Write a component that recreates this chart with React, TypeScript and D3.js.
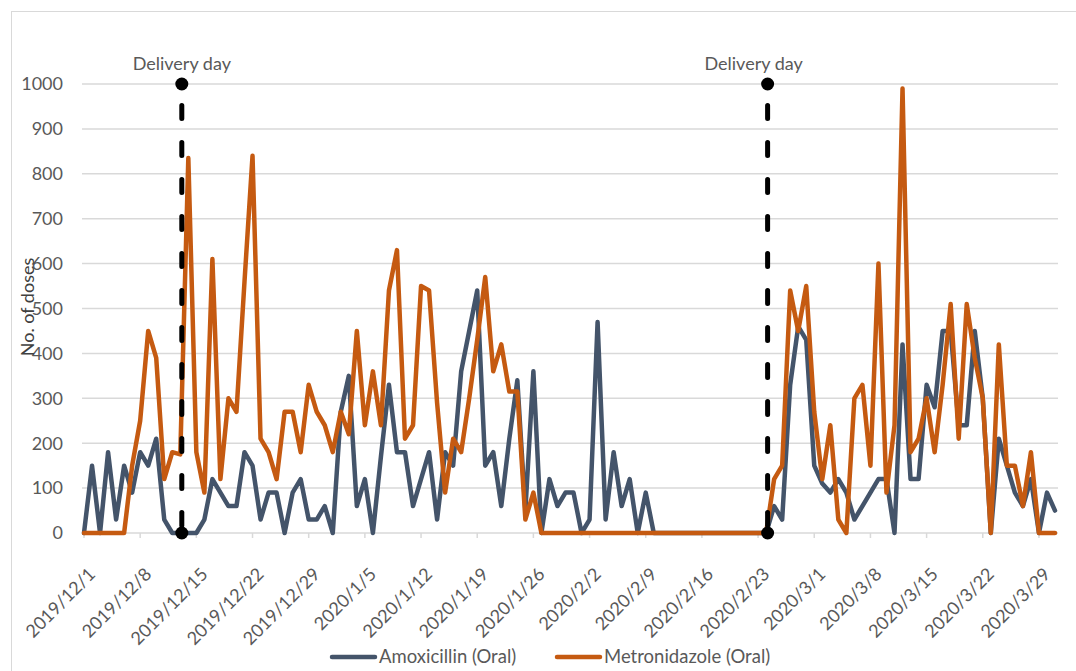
import { useEffect, useRef } from "react";
import * as d3 from "d3";

const W = 1076;
const H = 671;

// weekly tick labels on the date axis
const tickLabels = [
  "2019/12/1", "2019/12/8", "2019/12/15", "2019/12/22", "2019/12/29",
  "2020/1/5", "2020/1/12", "2020/1/19", "2020/1/26", "2020/2/2",
  "2020/2/9", "2020/2/16", "2020/2/23", "2020/3/1", "2020/3/8",
  "2020/3/15", "2020/3/22", "2020/3/29",
];
const yTicks = [0, 100, 200, 300, 400, 500, 600, 700, 800, 900, 1000];
const firstDay = "2019/12/1";
const deliveryDates = ["2019/12/13", "2020/2/24"];
const deliveryLabel = "Delivery day";

// daily doses, 2019/12/1 .. 2020/3/31
const amoxicillin = [
  0, 150, 0, 180, 30, 150, 90, 180, 150, 210,
  30, 0, 0, 0, 0, 30, 120, 90, 60, 60,
  180, 150, 30, 90, 90, 0, 90, 120, 30, 30,
  60, 0, 270, 350, 60, 120, 0, 170, 330, 180,
  180, 60, 120, 180, 30, 180, 150, 360, 450, 540,
  150, 180, 60, 210, 340, 50, 360, 0, 120, 60,
  90, 90, 0, 30, 470, 30, 180, 60, 120, 0,
  90, 0, 0, 0, 0, 0, 0, 0, 0, 0,
  0, 0, 0, 0, 0, 0, 60, 30, 330, 460,
  430, 150, 110, 90, 120, 90, 30, 60, 90, 120,
  120, 0, 420, 120, 120, 330, 280, 450, 450, 240,
  240, 450, 300, 0, 210, 150, 90, 60, 120, 0,
  90, 50,
];
const metronidazole = [
  0, 0, 0, 0, 0, 0, 150, 250, 450, 390,
  120, 180, 175, 835, 180, 90, 610, 120, 300, 270,
  560, 840, 210, 180, 120, 270, 270, 180, 330, 270,
  240, 180, 270, 220, 450, 240, 360, 240, 540, 630,
  210, 240, 550, 540, 290, 90, 210, 180, 300, 430,
  570, 360, 420, 315, 315, 30, 90, 0, 0, 0,
  0, 0, 0, 0, 0, 0, 0, 0, 0, 0,
  0, 0, 0, 0, 0, 0, 0, 0, 0, 0,
  0, 0, 0, 0, 0, 0, 120, 150, 540, 450,
  550, 270, 120, 240, 30, 0, 300, 330, 150, 600,
  90, 240, 990, 180, 210, 300, 180, 330, 510, 210,
  510, 390, 300, 0, 420, 150, 150, 60, 180, 0,
  0, 0,
];

const seriesNames = ["Amoxicillin (Oral)", "Metronidazole (Oral)"];
const seriesColors = ["#44546a", "#c55a11"];

const font = "Lato, sans-serif";
const textColor = "#595959";
const gridColor = "#d9d9d9";

const App = () => {
  const svgRef = useRef(null);

  useEffect(() => {
    const svg = d3.select(svgRef.current);
    svg.selectAll("*").remove();

    const parse = d3.timeParse("%Y/%m/%d");
    const start = parse(firstDay);
    const dates = d3.timeDays(start, d3.timeDay.offset(start, amoxicillin.length));

    const margin = { top: 84, bottom: 533, left: 82, right: 1058 };

    const x = d3
      .scaleTime()
      .domain([dates[0], dates[dates.length - 1]])
      .range([84, 1055]);

    const y = d3.scaleLinear().domain([0, 1000]).range([margin.bottom, margin.top]);

    // chart frame
    svg
      .append("rect")
      .attr("x", 11.5)
      .attr("y", 11.5)
      .attr("width", W + 20)
      .attr("height", H + 20)
      .attr("fill", "white")
      .attr("stroke", gridColor)
      .attr("stroke-width", 1);

    // gridlines + y labels
    const yAxis = svg.append("g");
    yAxis
      .selectAll("line")
      .data(yTicks)
      .join("line")
      .attr("x1", margin.left)
      .attr("x2", margin.right)
      .attr("y1", (d) => y(d))
      .attr("y2", (d) => y(d))
      .attr("stroke", gridColor)
      .attr("stroke-width", 1.5);
    yAxis
      .selectAll("text")
      .data(yTicks)
      .join("text")
      .attr("x", 63)
      .attr("y", (d) => y(d))
      .attr("dy", "0.35em")
      .attr("text-anchor", "end")
      .attr("font-family", font)
      .attr("font-size", 18)
      .attr("fill", textColor)
      .text((d) => d);

    // x ticks + rotated labels
    const xAxis = svg.append("g");
    xAxis
      .selectAll("line")
      .data(tickLabels)
      .join("line")
      .attr("x1", (d) => x(parse(d)))
      .attr("x2", (d) => x(parse(d)))
      .attr("y1", margin.bottom)
      .attr("y2", margin.bottom + 5)
      .attr("stroke", gridColor)
      .attr("stroke-width", 1.5);
    xAxis
      .selectAll("text")
      .data(tickLabels)
      .join("text")
      .attr(
        "transform",
        (d) => `translate(${x(parse(d)) + 8},${margin.bottom + 38}) rotate(-45)`
      )
      .attr("dy", "0.35em")
      .attr("text-anchor", "end")
      .attr("font-family", font)
      .attr("font-size", 18)
      .attr("fill", textColor)
      .text((d) => d);

    // y axis title
    svg
      .append("text")
      .attr("transform", `translate(34,307) rotate(-90)`)
      .attr("text-anchor", "middle")
      .attr("font-family", font)
      .attr("font-size", 18)
      .attr("fill", "#404040")
      .text("No. of doses");

    // series lines
    const line = d3
      .line()
      .x((d, i) => x(dates[i]))
      .y((d) => y(d));

    [amoxicillin, metronidazole].forEach((values, k) => {
      svg
        .append("path")
        .datum(values)
        .attr("d", line)
        .attr("fill", "none")
        .attr("stroke", seriesColors[k])
        .attr("stroke-width", 4.5)
        .attr("stroke-linejoin", "round")
        .attr("stroke-linecap", "round");
    });

    // delivery markers
    const labelShift = [0, -14];
    const delivery = svg
      .append("g")
      .selectAll("g")
      .data(deliveryDates)
      .join("g")
      .attr("transform", (d) => `translate(${x(parse(d)) + 1.5},0)`);
    delivery
      .append("line")
      .attr("y1", y(1000))
      .attr("y2", y(0))
      .attr("stroke", "black")
      .attr("stroke-width", 5)
      .attr("stroke-linecap", "round")
      .attr("stroke-dasharray", "13 24")
      .attr("stroke-dashoffset", 15.5);
    delivery
      .selectAll("circle")
      .data([1000, 0])
      .join("circle")
      .attr("cy", (d) => y(d))
      .attr("r", 6.5)
      .attr("fill", "black");
    delivery
      .append("text")
      .attr("x", (d, i) => labelShift[i])
      .attr("y", 70)
      .attr("text-anchor", "middle")
      .attr("font-family", font)
      .attr("font-size", 18)
      .attr("fill", textColor)
      .text(deliveryLabel);

    // legend
    const legendX = [330, 555];
    const legend = svg
      .append("g")
      .selectAll("g")
      .data(seriesNames)
      .join("g")
      .attr("transform", (d, i) => `translate(${legendX[i]},657)`);
    legend
      .append("line")
      .attr("x1", 2)
      .attr("x2", 45)
      .attr("stroke", (d, i) => seriesColors[i])
      .attr("stroke-width", 4.5)
      .attr("stroke-linecap", "round");
    legend
      .append("text")
      .attr("x", 49)
      .attr("dy", "0.35em")
      .attr("font-family", font)
      .attr("font-size", 18.5)
      .attr("fill", textColor)
      .text((d) => d);
  }, []);

  return (
    <div style={{ position: "fixed", left: 0, top: 0, width: W, height: H, background: "white" }}>
      <svg ref={svgRef} width={W} height={H} style={{ display: "block" }} />
    </div>
  );
};

export default App;
